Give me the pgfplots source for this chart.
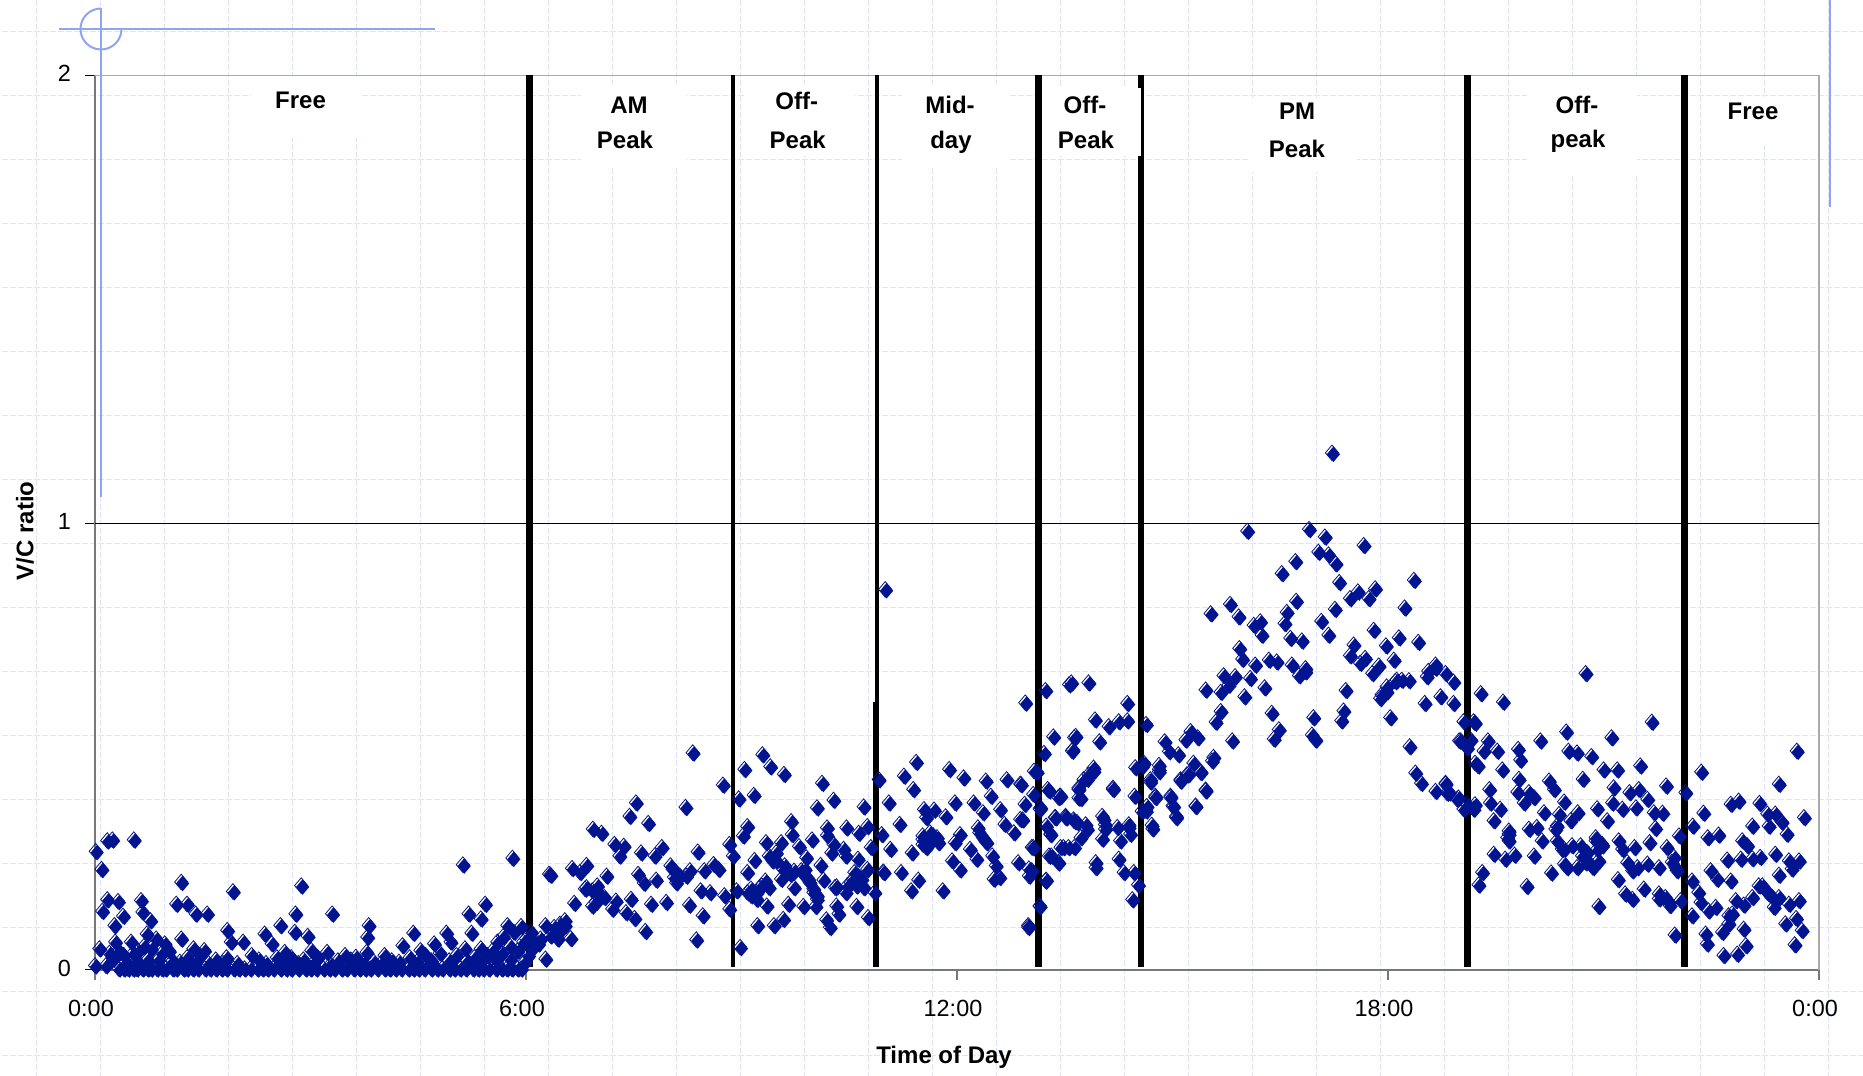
\documentclass[border=0pt]{standalone}
\usepackage{fontspec}
\setmainfont{Liberation Sans}
\usepackage{pgfplots}
\pgfplotsset{compat=1.18}
\definecolor{vcblue}{RGB}{3,20,145}
\definecolor{slidegrid}{RGB}{222,229,250}
\definecolor{slideblue}{RGB}{142,165,242}
\definecolor{axgray}{RGB}{120,120,120}
\definecolor{axlight}{RGB}{170,170,170}
% diamond with the offset outline the spreadsheet export left behind
\pgfdeclareplotmark{vcd}{%
  \pgfsetlinewidth{0.4pt}%
  \pgfsetstrokecolor{vcblue}\pgfsetfillcolor{vcblue}%
  \pgfpathmoveto{\pgfqpoint{-0.7pt}{4.6pt}}%
  \pgfpathlineto{\pgfqpoint{2.6pt}{0.7pt}}%
  \pgfpathlineto{\pgfqpoint{-0.7pt}{-3.2pt}}%
  \pgfpathlineto{\pgfqpoint{-4.0pt}{0.7pt}}%
  \pgfpathclose\pgfusepathqstroke
  \pgfpathmoveto{\pgfqpoint{0pt}{3.9pt}}%
  \pgfpathlineto{\pgfqpoint{3.3pt}{0pt}}%
  \pgfpathlineto{\pgfqpoint{0pt}{-3.9pt}}%
  \pgfpathlineto{\pgfqpoint{-3.3pt}{0pt}}%
  \pgfpathclose\pgfusepathqfill
}
\newcommand{\lbl}[3]{\node[anchor=base,inner sep=0pt,font=\fontsize{12}{14}\selectfont\bfseries] at (#1,#2) {#3};}
\begin{document}
\begin{tikzpicture}
\path[use as bounding box] (0,0) rectangle (931.5pt,538pt);
% slide background, in reference pixels
\begin{scope}[x=0.5pt,y=-0.5pt,yshift=538pt]
\foreach \k in {0,...,28} {\draw[slidegrid,line width=0.5pt,dash pattern=on 3pt off 1pt] ({36.8+64*\k},0) -- ({36.8+64*\k},1076);}
\foreach \k in {0,...,16} {\draw[slidegrid,line width=0.5pt,dash pattern=on 3pt off 1pt] (2,{31.3+64*\k}) -- (1863,{31.3+64*\k});}
\fill[white] (251,76) rectangle (360,137);
\fill[white] (581,85) rectangle (687,168);
\fill[white] (745,85) rectangle (855,156);
\fill[white] (902,85) rectangle (1010,168);
\fill[white] (1248,98) rectangle (1357,172);
\fill[white] (1527,76) rectangle (1637,175);
\fill[white] (1715,97) rectangle (1800,145);
\end{scope}
\begin{axis}[
    at={(47.5pt,53pt)}, anchor=south west,
    scale only axis, width=862pt, height=447.25pt,
    xmin=0, xmax=24, ymin=0, ymax=2.005,
    axis x line*=bottom, axis y line*=left,
    axis line style={axgray,line width=0.8pt,-},
    clip=false,
    xtick={0,6,12,18,24},
    xticklabels={0:00,6:00,12:00,18:00,0:00},
    ytick={0,1,2.005},
    yticklabels={0,1,2},
    tick align=outside,
    major tick length=5pt,
    xtick style={axgray,line width=0.8pt},
    ytick style={black,line width=0.5pt},
    minor tick num=0,
    /pgf/number format/assume math mode=true,
    ticklabel style={font=\fontsize{11.7}{14}\selectfont},
    xticklabel style={xshift=-2pt,yshift=-6.5pt},
    yticklabel style={xshift=-3.5pt,yshift=1pt},
    xlabel={Time of Day},
    ylabel={V/C ratio},
    every axis x label/.style={at={(axis description cs:0.4925,0)},anchor=center,yshift=-43.5pt,font=\fontsize{12}{14}\selectfont\bfseries},
    every axis y label/.style={at={(axis description cs:-0.0406,0.491)},anchor=center,rotate=90,font=\fontsize{12}{14}\selectfont\bfseries},
]
% frame on the far sides and the V/C = 1 line
\addplot[axlight,line width=0.8pt] coordinates {(0,2.005)(24,2.005)(24,0)};
\addplot[black,line width=0.5pt] coordinates {(0,1)(24,1)};
\addplot[only marks,mark=vcd] coordinates {
% free, 0:00 to 6:00
(0.03,.263)(0.11,.223)(0.19,.287)(0.26,.289)(0.56,.289)(0.12,.129)(0.19,.155)(0.34,.151)(0.66,.153)(0.41,.118)
(0.68,.127)(0.79,.108)(0.29,.097)(1.22,.194)(1.15,.145)(1.30,.145)(1.42,.123)(1.58,.123)(1.94,.173)(2.89,.186)
(2.81,.123)(3.32,.123)(2.60,.097)(1.86,.086)(2.80,.082)(2.38,.078)(2.98,.073)(3.83,.097)(3.81,.071)(4.45,.080)
(4.91,.080)(5.14,.233)(5.83,.248)(5.45,.145)(5.22,.123)(5.39,.112)(5.26,.080)(5.76,.097)
(0.08,.045)(1.22,.067)(0.52,.060)(0.74,.078)(0.87,.067)(0.99,.056)(1.39,.045)(1.54,.041)(1.91,.060)(2.08,.060)
(2.48,.056)(2.66,.037)(3.03,.041)(3.25,.037)(3.50,.030)(3.65,.026)(3.80,.037)(4.05,.030)(4.30,.052)(4.55,.041)
(4.74,.056)(4.97,.060)(5.17,.045)(5.39,.045)(5.62,.060)(5.70,.072)(5.85,.082)(5.95,.095)(5.80,.050)(5.55,.040)
(0.02,.007)(0.17,.007)(0.27,.022)(0.22,.035)(0.30,.060)(0.35,.040)(0.42,.030)(0.55,.035)(0.62,.040)(0.70,.050)
(0.80,.045)(0.95,.035)(1.05,.040)(1.30,.025)(1.48,.030)(1.70,.020)(1.85,.025)(2.20,.030)(2.30,.020)(2.55,.025)
(2.75,.025)(2.92,.020)(3.12,.025)(3.40,.018)(3.58,.020)(3.90,.015)(4.15,.018)(4.40,.025)(4.62,.030)(4.82,.035)
(5.05,.030)(5.30,.025)(5.48,.030)(5.68,.035)(5.90,.040)(5.98,.060)
(.45,.015)(.6,.018)(.75,.02)(.9,.02)(1.1,.018)(1.2,.015)(1.4,.012)(1.6,.012)(1.8,.012)(2.0,.012)(2.4,.012)(2.65,.012)(2.85,.012)(3.05,.012)
(3.3,.01)(3.55,.01)(3.75,.012)(4.0,.012)(4.25,.015)(4.5,.015)(4.7,.018)(4.95,.018)(5.2,.018)(5.4,.018)(5.6,.02)(5.8,.022)
(.35,0)(.42,0)(.48,0)(.55,0)(.6,0)(.68,0)(.75,0)(.8,0)(.88,0)(.95,0)(1.0,0)(1.1,0)(1.15,0)(1.25,0)(1.3,0)(1.38,0)(1.45,0)(1.55,0)
(1.62,0)(1.7,0)(1.78,0)(1.85,0)(1.95,0)(2.02,0)(2.1,0)(2.18,0)(2.28,0)(2.35,0)(2.42,0)(2.5,0)(2.6,0)(2.68,0)(2.75,0)(2.85,0)
(2.95,0)(3.02,0)(3.1,0)(3.2,0)(3.28,0)(3.35,0)(3.45,0)(3.52,0)(3.62,0)(3.7,0)(3.78,0)(3.85,0)(3.95,0)(4.05,0)(4.12,0)(4.2,0)
(4.28,0)(4.38,0)(4.45,0)(4.52,0)(4.6,0)(4.7,0)(4.78,0)(4.85,0)(4.95,0)(5.02,0)(5.1,0)(5.18,0)(5.28,0)(5.35,0)(5.42,0)(5.5,0)
(5.6,0)(5.68,0)(5.75,0)(5.82,0)(5.9,0)(5.95,0)
% 6:00 to 9:00
(6.36,.210)(8.34,.484)(8.76,.412)(8.24,.362)(7.55,.372)(7.46,.342)(7.72,.326)(6.95,.313)(7.07,.304)(7.25,.279)
(7.38,.275)(7.32,.253)(7.62,.260)(7.81,.253)(7.91,.272)(8.41,.262)(6.34,.212)(6.66,.225)(6.77,.216)(6.86,.232)
(7.14,.208)(7.58,.212)(7.66,.192)(7.83,.199)(8.03,.231)(8.13,.212)(8.11,.193)(8.30,.220)(8.50,.220)(8.63,.234)
(8.70,.223)(8.85,.279)(8.90,.253)(6.84,.179)(7.01,.186)(7.11,.160)(6.94,.141)(6.69,.147)(7.22,.134)(7.27,.152)
(7.48,.156)(7.41,.126)(7.53,.113)(7.76,.145)(7.97,.149)(8.29,.143)(8.48,.119)(7.68,.084)(8.39,.065)(8.45,.175)
(8.58,.171)(8.78,.164)(8.85,.134)(8.95,.175)(6.29,.022)(6.19,.056)(6.44,.074)(6.56,.108)(6.29,.097)(6.64,.068)
(6.41,.093)(6.51,.089)(6.02,.067)(6.09,.082)(6.22,.067)(6.05,.030)(6.10,.045)(6.00,.015)(6.14,.058)
(8.06,.223)(8.16,.208)(8.25,.208)(8.08,.205)(6.86,.182)(6.94,.175)(7.06,.164)(6.99,.149)(6.41,.082)(6.49,.100)(6.36,.074)(6.56,.097)(6.46,.067)
% 9:00 to 11:00
(9.06,.447)(9.31,.480)(9.42,.453)(9.61,.436)(10.14,.416)(8.98,.381)(9.19,.389)(10.30,.378)(10.07,.361)(10.72,.363)
(10.93,.424)(9.10,.319)(9.04,.298)(9.71,.330)(9.72,.301)(9.36,.283)(9.57,.283)(9.82,.274)(10.0,.289)(10.21,.316)
(10.21,.299)(10.48,.316)(10.65,.304)(10.77,.319)(10.30,.279)(10.27,.260)(10.44,.268)(10.47,.253)(10.82,.272)(10.64,.246)
(10.97,.301)(9.20,.243)(9.50,.260)(9.45,.242)(9.92,.249)(10.12,.232)(9.10,.216)(9.60,.223)(9.75,.219)(9.90,.223)
(9.57,.201)(9.35,.197)(9.15,.179)(9.27,.182)(9.95,.201)(10.16,.199)(10.59,.216)(10.77,.223)(10.54,.193)(10.34,.184)
(10.47,.171)(10.72,.182)(9.75,.182)(10.02,.179)(9.10,.171)(9.23,.156)(9.37,.141)(10.07,.156)(9.67,.145)(9.88,.140)
(10.05,.140)(10.34,.141)(10.62,.140)(10.37,.123)(10.20,.110)(10.25,.093)(10.78,.115)(9.24,.097)(9.47,.097)(9.60,.111)
(9.00,.048)(10.87,.171)(10.99,.217)(11.02,.850)
(9.40,.253)(9.50,.242)(9.62,.231)(9.70,.212)(9.85,.220)(9.90,.208)(9.97,.193)(10.02,.171)(10.07,.164)(9.15,.164)
(9.23,.171)(9.30,.186)(9.40,.182)(10.32,.182)(10.49,.186)(10.57,.201)(10.64,.208)(10.69,.201)(10.62,.186)
% 11:00 to 13:00
(11.28,.432)(11.45,.463)(11.41,.402)(11.91,.447)(12.11,.428)(12.42,.421)(12.71,.424)(12.91,.413)(11.07,.372)(11.22,.324)
(11.99,.372)(12.25,.372)(12.49,.387)(12.62,.357)(12.38,.350)(12.96,.369)(11.56,.357)(11.70,.356)(11.86,.341)(11.59,.339)
(12.93,.334)(12.68,.324)(12.81,.305)(12.31,.316)(12.06,.301)(12.41,.287)(11.99,.283)(11.54,.290)(11.69,.298)(11.76,.283)
(11.59,.272)(11.09,.268)(11.39,.260)(12.20,.268)(11.95,.242)(12.29,.246)(12.51,.253)(12.56,.231)(12.87,.238)(12.06,.222)
(11.00,.216)(11.24,.216)(11.48,.199)(11.38,.175)(11.82,.175)(12.61,.205)(12.53,.201)(13.06,.220)(13.26,.199)(13.01,.093)
(13.17,.140)(12.97,.596)(13.25,.624)(13.58,.637)(13.36,.520)(13.23,.483)(13.62,.488)(13.65,.518)(13.13,.441)(13.28,.402)
(13.45,.387)(13.18,.361)(13.38,.339)(13.53,.339)(13.65,.331)(13.26,.320)(13.32,.301)(13.08,.272)(13.33,.253)(13.43,.238)
(13.50,.272)(13.65,.272)(13.08,.391)(12.90,.414)(12.90,.335)(13.06,.272)(13.02,.224)(13.02,.208)
(11.54,.298)(11.64,.305)(11.74,.294)(11.64,.283)(11.54,.279)(12.33,.305)(12.38,.294)(12.43,.283)
% 13:00 to 15:30
(13.92,.443)(13.83,.425)(13.71,.402)(13.74,.382)(14.19,.402)(13.43,.384)(13.30,.399)(13.54,.339)(13.39,.339)(13.69,.328)
(13.83,.313)(14.06,.335)(14.08,.313)(14.25,.317)(14.41,.317)(14.04,.291)(14.29,.287)(14.43,.302)(13.74,.294)(13.32,.302)
(13.46,.272)(13.57,.272)(13.30,.253)(13.43,.238)(13.95,.238)(13.95,.227)(14.27,.246)(14.34,.216)(14.48,.216)(14.54,.188)
(14.46,.155)(13.25,.197)(13.17,.141)(13.01,.097)(13.17,.358)(13.09,.443)(14.6,.455)(14.83,.447)(14.71,.419)(15.13,.421)
(15.24,.436)(15.41,.440)(15.48,.399)(14.78,.384)(14.99,.384)(15.02,.365)(15.07,.339)(15.34,.365)(14.65,.354)(14.74,.314)
(15.57,.466)
(13.61,.641)(13.85,.641)(14.39,.595)(13.94,.558)(14.13,.543)(14.27,.554)(14.39,.556)(13.67,.521)(13.63,.491)(14.0,.509)
(14.65,.548)(14.91,.509)(14.97,.487)(15.10,.480)(15.27,.532)(15.37,.518)(15.20,.513)(14.62,.461)(14.50,.451)(14.83,.456)
(14.83,.442)(15.31,.461)(15.41,.442)(15.22,.435)(15.13,.424)(14.71,.424)(13.85,.435)(13.92,.450)(13.78,.424)(13.71,.405)
(13.71,.383)(14.19,.405)(15.48,.401)(14.49,.387)(14.78,.387)(14.99,.387)(15.03,.364)(15.34,.364)(15.07,.342)(14.59,.353)
(14.66,.364)(13.46,.387)(13.53,.342)(13.64,.334)(14.04,.342)(13.81,.323)(14.08,.323)(14.41,.323)(14.73,.322)
% PM peak
(17.24,1.156)(16.06,.981)(16.92,.985)(17.14,.968)(17.68,.949)(17.05,.934)(17.19,.928)(17.29,.908)(16.73,.913)(16.54,.886)
(17.34,.866)(18.38,.871)(17.60,.845)(17.84,.852)(17.49,.830)(17.75,.830)(15.82,.817)(15.55,.796)(15.94,.789)(16.74,.824)
(17.28,.806)(18.25,.809)(16.61,.799)(16.58,.774)(17.09,.779)(16.15,.770)(16.24,.778)(16.26,.748)(17.19,.748)(17.82,.759)
(18.17,.742)(16.66,.741)(16.82,.735)(18.44,.732)(17.99,.724)(15.95,.718)(17.54,.726)(15.99,.694)(17.49,.702)(17.70,.696)
(17.63,.685)(18.10,.692)(16.17,.681)(16.36,.692)(16.47,.688)(16.68,.681)(16.87,.673)(16.78,.657)(17.89,.679)(17.80,.662)
(18.68,.681)(18.56,.655)(18.82,.662)(18.93,.643)(15.73,.657)(15.89,.655)(16.10,.651)(15.48,.625)(15.69,.620)(15.80,.636)
(16.30,.630)(16.02,.610)(18.14,.647)(18.31,.646)(18.0,.621)(17.91,.606)(17.43,.624)(18.53,.595)(18.75,.610)(18.93,.595)
(15.69,.577)(15.62,.553)(16.40,.573)(16.98,.563)(17.40,.578)(17.37,.556)(18.05,.563)(16.50,.536)(16.43,.515)(16.96,.524)
(17.01,.513)(15.85,.511)(15.59,.474)(18.32,.498)(19.07,.554)(19.21,.554)(19.03,.511)(19.17,.513)(19.12,.495)(19.23,.461)
(18.40,.439)(18.48,.416)(18.82,.416)(18.68,.398)(18.84,.394)(19.0,.383)(19.12,.368)(19.23,.368)
(18.68,.674)(18.58,.667)(18.12,.644)(18.21,.647)(17.93,.614)(18.0,.632)(16.87,.666)
% 19:00 to 24:00
(20.77,.662)(19.31,.617)(19.62,.598)(21.69,.553)(20.50,.531)(21.13,.518)(20.14,.511)(19.23,.551)(23.71,.488)(19.01,.511)
(19.41,.511)(19.35,.488)(19.54,.488)(19.83,.492)(19.86,.468)(20.53,.488)(20.65,.484)(20.85,.476)(19.27,.455)(19.61,.446)
(21.02,.446)(21.21,.446)(21.53,.455)(22.38,.441)(19.84,.425)(20.73,.425)(20.26,.421)(23.46,.414)(18.82,.414)(20.33,.402)
(21.89,.410)(19.43,.402)(21.16,.406)(22.16,.395)(19.82,.396)(19.98,.395)(21.38,.395)(21.51,.402)(21.63,.380)(18.87,.395)
(18.98,.380)(19.44,.372)(19.91,.372)(20.05,.384)(20.47,.374)(21.14,.372)(20.93,.359)(21.28,.358)(21.47,.361)(19.07,.358)
(19.21,.358)(19.58,.358)(21.72,.350)(21.84,.349)(20.19,.350)(20.40,.346)(20.66,.350)(20.56,.332)(21.07,.332)(19.49,.332)
(22.41,.349)(22.79,.369)(22.90,.376)(23.19,.371)(23.30,.347)(23.41,.347)(23.50,.329)(23.81,.339)(22.26,.320)(21.74,.315)
(23.09,.320)(23.32,.320)(23.57,.302)(19.70,.309)(19.98,.313)(20.09,.317)(20.37,.320)(19.70,.287)(22.07,.298)(22.47,.294)
(22.62,.300)(20.16,.287)(20.37,.287)(20.91,.294)(21.0,.279)(21.23,.287)(21.66,.283)(21.45,.272)(22.95,.287)(23.02,.276)
(20.47,.268)(20.58,.276)(20.70,.276)(21.28,.268)(21.90,.272)(20.79,.261)(19.49,.257)(19.78,.255)(19.65,.246)(20.05,.253)
(22.0,.250)(22.74,.244)(22.93,.246)(23.09,.247)(23.20,.250)(23.41,.257)(23.60,.242)(23.74,.242)(20.95,.242)(20.47,.235)
(20.51,.227)(20.65,.227)(20.77,.238)(20.87,.227)(21.35,.238)(21.63,.235)(21.79,.227)(21.49,.227)(22.02,.227)(21.42,.220)
(23.46,.210)(23.64,.224)(20.29,.215)(19.33,.216)(22.51,.220)(22.60,.201)(22.79,.197)(22.25,.197)(21.22,.200)(19.28,.188)
(19.95,.185)(21.58,.179)(21.32,.168)(21.42,.156)(21.79,.168)(21.88,.160)(21.94,.142)(22.34,.171)(23.18,.186)(23.30,.171)
(23.09,.160)(23.39,.138)(23.46,.160)(23.60,.145)(23.74,.153)(20.95,.140)(22.86,.153)(22.97,.143)(22.58,.138)(22.37,.149)
(22.48,.130)(22.25,.119)(22.81,.123)(22.09,.153)(23.70,.113)(23.55,.101)(22.76,.101)(22.67,.082)(22.97,.089)(22.44,.078)
(23.78,.086)(22.01,.076)(22.46,.056)(23.68,.054)(23.0,.052)(22.88,.033)(22.69,.030)
(19.70,.302)(19.68,.294)(20.35,.313)(20.44,.268)(20.72,.253)(20.81,.239)(20.91,.287)(20.93,.268)(21.0,.276)(21.79,.157)
(21.93,.149)(21.97,.239)(22.04,.220)(22.76,.119)(23.32,.168)(23.23,.186)(23.37,.160)
};
% period boundaries
\addplot[black,line width=3.25pt] coordinates {(6.05,0.007)(6.05,2.005)};
\addplot[black,line width=1.85pt] coordinates {(8.885,0.007)(8.885,2.005)};
\addplot[black,line width=1.7pt] coordinates {(10.887,0.007)(10.887,2.005)};
\addplot[black,line width=2.85pt] coordinates {(10.865,0.007)(10.865,0.6)};
\addplot[black,line width=3.5pt] coordinates {(13.14,0.007)(13.14,2.005)};
\addplot[black,line width=3pt] coordinates {(14.56,0.007)(14.56,2.005)};
\addplot[black,line width=3.5pt] coordinates {(19.11,0.007)(19.11,2.005)};
\addplot[black,line width=3.5pt] coordinates {(22.13,0.007)(22.13,2.005)};
\end{axis}
\begin{scope}[x=0.5pt,y=-0.5pt,yshift=538pt]
\fill[white] (1041.7,88) rectangle (1140.7,156);
\lbl{300.5}{109}{Free}
\lbl{629}{114}{AM}
\lbl{625}{149}{Peak}
\lbl{796.7}{110}{Off-}
\lbl{797.7}{149}{Peak}
\lbl{950}{114}{Mid-}
\lbl{951}{149}{day}
\lbl{1085}{114}{Off-}
\lbl{1086}{149}{Peak}
\lbl{1297}{120}{PM}
\lbl{1297}{158}{Peak}
\lbl{1577}{114}{Off-}
\lbl{1578}{148}{peak}
\lbl{1753}{120}{Free}
\draw[slideblue,line width=1pt] (101,8) -- (101,497);
\draw[slideblue,line width=1pt] (59,29.3) -- (435,29.3);
\draw[slideblue,line width=1pt] (1829.6,0) -- (1829.6,207);
\end{scope}
\draw[slideblue,line width=1pt] (50.5pt,523.5pt) ++(90:10.25pt) arc[start angle=90,end angle=360,radius=10.25pt];
\end{tikzpicture}
\end{document}
